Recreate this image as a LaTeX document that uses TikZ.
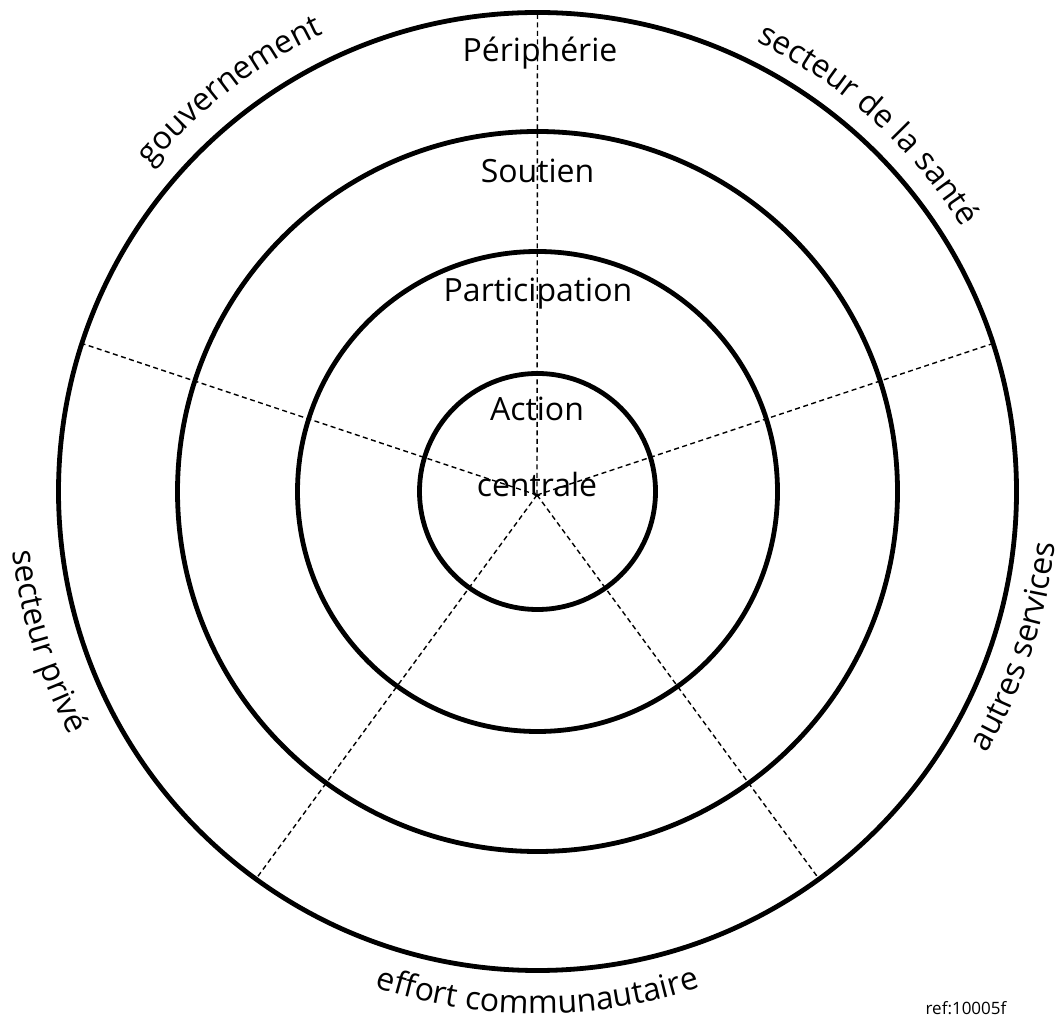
\documentclass[tikz,border=0pt]{standalone}
\usepackage{fontspec}
\setmainfont{Open Sans}
\usetikzlibrary{decorations.text}
\newcommand\midfont{\fontsize{32}{38}\selectfont}
\newcommand\sidefont{\fontsize{32}{38}\selectfont}
\newcommand\reffont{\fontsize{17}{20}\selectfont}
\begin{document}
\begin{tikzpicture}[x=1pt,y=1pt,
  ring/.style={draw=black,line width=4.8pt},
  spoke/.style={draw=black,line width=1.4pt,dash pattern=on 5pt off 3.5pt},
  ringlabel/.style={font=\midfont,anchor=base,inner sep=0pt},
  arclabel/.style={decorate,decoration={text along path,text align=center,text={#1}}}
]
\useasboundingbox (0,0) rectangle (1064,1022);
\coordinate (C) at (537.5,530.5);
\coordinate (S) at (537,527);
\foreach \a/\n in {90/a,162/b,234/c,306/d,18/e}
  \path (C) ++(\a:479) coordinate (p\n);
% spokes
\draw[spoke] (S) -- (pa);
\draw[spoke] (S) -- (pb);
\draw[spoke] (S) -- (pc);
\draw[spoke] (S) -- (pd);
\draw[spoke] (S) -- (pe);
% rings
\draw[ring] (C) circle[radius=118];
\draw[ring] (C) circle[radius=240];
\draw[ring] (C) circle[radius=360];
\draw[ring] (C) circle[radius=479];
% ring labels
\node[ringlabel] (peri) at (540,960) {Périphérie};
\node[ringlabel] (sout) at (537.5,839) {Soutien};
\node[ringlabel] (part) at (538,720) {Participation};
\node[ringlabel] (act) at (537,601) {Action};
\node[ringlabel] (cent) at (537,525) {centrale};
% sector labels
\path[arclabel={|\sidefont|gouvernement}] (C) ++(145:505) arc[start angle=145,end angle=110,radius=505];
\path[arclabel={|\sidefont|secteur de la santé}] (C) ++(70:500) arc[start angle=70,end angle=26,radius=500];
\path[arclabel={|\sidefont|autres services}] (C) ++(-45:520) arc[start angle=-45,end angle=9,radius=520];
\path[arclabel={|\sidefont|secteur privé}] (C) ++(172:528) arc[start angle=172,end angle=222,radius=528];
\path[arclabel={|\sidefont|effort communautaire}] (C) ++(-120:522) arc[start angle=-120,end angle=-60,radius=522];
\node[font=\reffont,anchor=base,inner sep=0pt] (ref) at (966,8) {ref:10005f};
\end{tikzpicture}
\end{document}
